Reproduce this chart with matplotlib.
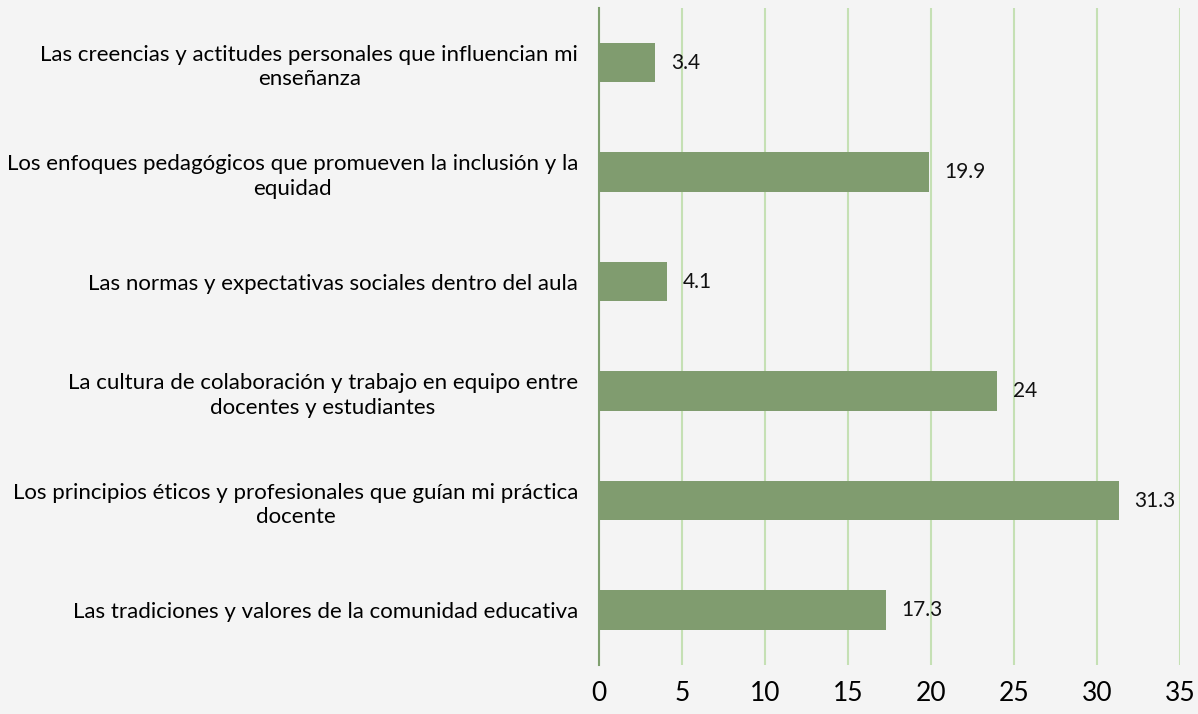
import matplotlib.pyplot as plt
import numpy as np

# categories listed bottom to top, as drawn
categorias = [
    "Las tradiciones y valores de la comunidad educativa",
    "Los principios éticos y profesionales que guían mi práctica\ndocente",
    "La cultura de colaboración y trabajo en equipo entre\ndocentes y estudiantes",
    "Las normas y expectativas sociales dentro del aula",
    "Los enfoques pedagógicos que promueven la inclusión y la\nequidad",
    "Las creencias y actitudes personales que influencian mi\nenseñanza",
]
valores = [17.3, 31.3, 24, 4.1, 19.9, 3.4]
etiquetas = ["17.3", "31.3", "24", "4.1", "19.9", "3.4"]
ticks_x = [0, 5, 10, 15, 20, 25, 30, 35]

plt.rcParams['font.family'] = ['Lato', 'DejaVu Sans']

fondo = "#f4f4f4"
fig = plt.figure(figsize=(11.98, 7.14), dpi=100, facecolor=fondo)
ax = fig.add_axes([0.5, 0.069, 0.485, 0.92], facecolor=fondo)

y = np.arange(len(categorias))
ax.barh(y, valores, height=0.36, color="#809c6f", zorder=3)

for yi, v, t in zip(y, valores, etiquetas):
    ax.annotate(t, (v, yi), xytext=(11, 0), textcoords="offset points",
                va="center", ha="left", fontsize=15, color="#111111", zorder=4)

ax.set_xlim(0, 35)
ax.set_ylim(-0.5, len(categorias) - 0.5)
ax.set_xticks(ticks_x)
ax.set_xticklabels([str(t) for t in ticks_x], fontsize=19)
ax.set_yticks(y)
ax.set_yticklabels(categorias, fontsize=16, multialignment="center",
                   linespacing=1.3)
ax.tick_params(axis="x", length=0, pad=12)
ax.tick_params(axis="y", length=0, pad=15)

ax.grid(axis="x", color="#c5e0b4", linewidth=1.5, zorder=0)
ax.grid(axis="y", visible=False)
for s in ["top", "right", "bottom"]:
    ax.spines[s].set_visible(False)
ax.spines["left"].set_color("#7f9f6f")
ax.spines["left"].set_linewidth(1.5)

fig.savefig("out.png", dpi=100, facecolor=fondo)
